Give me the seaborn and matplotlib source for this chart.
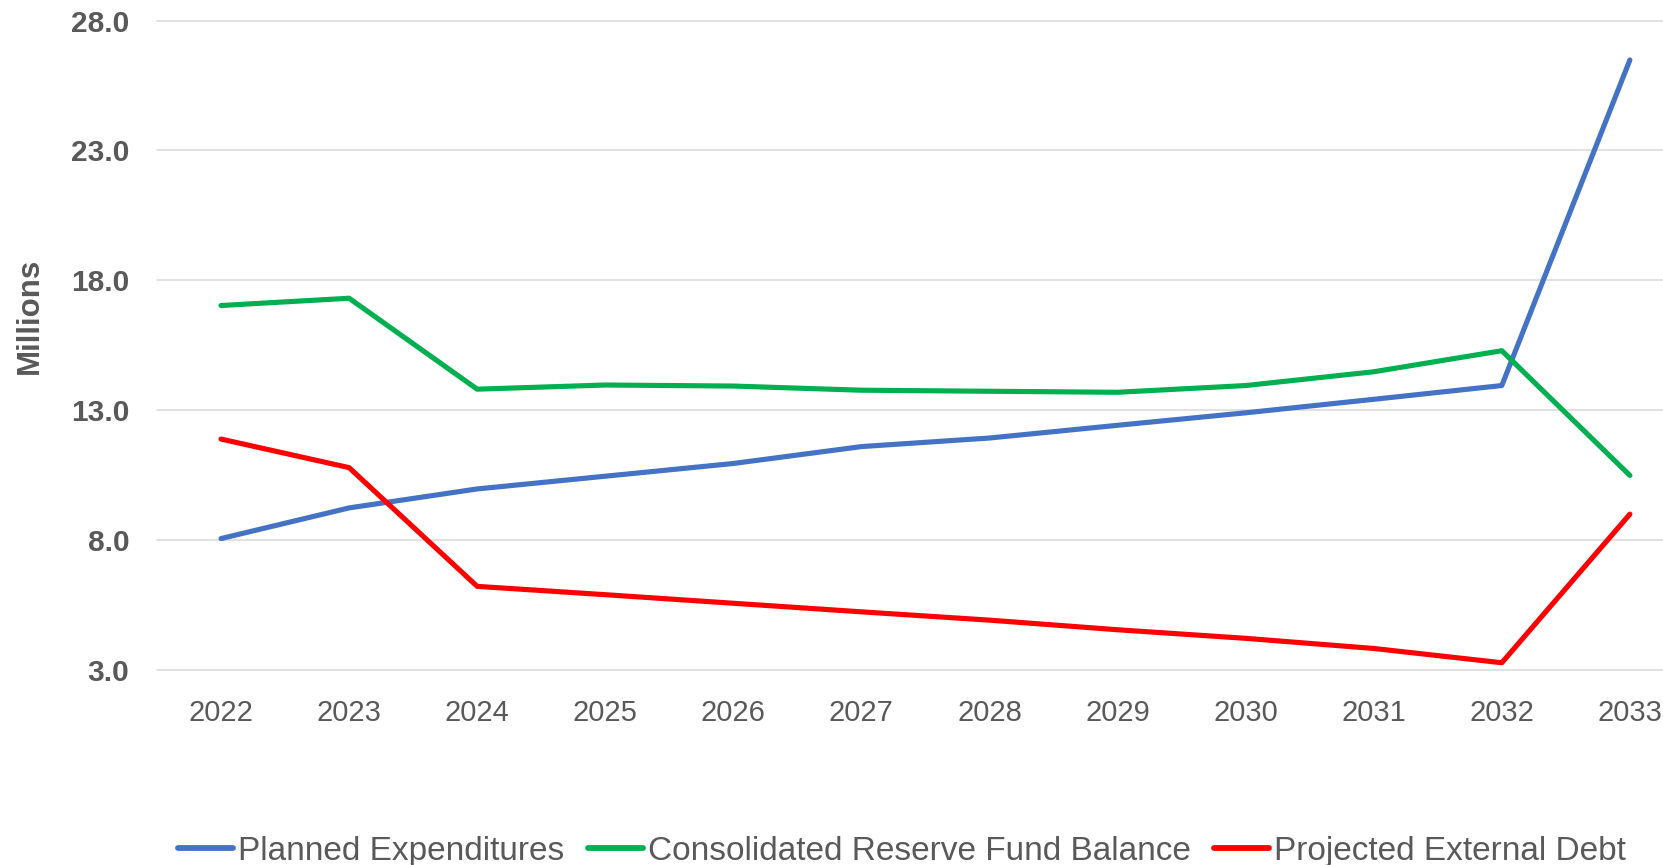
import numpy as np
import pandas as pd
import matplotlib
matplotlib.use("Agg")
import matplotlib.pyplot as plt
import seaborn as sns

years = list(range(2022, 2034))

planned_expenditures = [8.06, 9.24, 9.97, 10.46, 10.95, 11.6, 11.93, 12.42, 12.9, 13.42, 13.95, 26.48]
reserve_fund_balance = [17.03, 17.31, 13.81, 13.97, 13.93, 13.77, 13.73, 13.69, 13.95, 14.48, 15.29, 10.49]
external_debt = [11.89, 10.79, 6.22, 5.9, 5.57, 5.24, 4.92, 4.55, 4.22, 3.83, 3.28, 9.0]

series_names = ["Planned Expenditures", "Consolidated Reserve Fund Balance", "Projected External Debt"]
series_colors = ["#4472C4", "#00B050", "#FF0000"]
y_ticks = [3.0, 8.0, 13.0, 18.0, 23.0, 28.0]

df = pd.DataFrame({
    "Year": years * 3,
    "Value": planned_expenditures + reserve_fund_balance + external_debt,
    "Series": [series_names[0]] * 12 + [series_names[1]] * 12 + [series_names[2]] * 12,
})

sns.set_style("white")
plt.rcParams["font.family"] = ["Liberation Sans", "DejaVu Sans"]

fig = plt.figure(figsize=(16.63, 8.65), dpi=100)
ax = fig.add_axes([0.0944, 0.2254, 0.9242, 0.7509])

sns.lineplot(
    data=df, x="Year", y="Value", hue="Series",
    palette=series_colors, hue_order=series_names,
    linewidth=3.7, ax=ax, legend=True
)

ax.set_xlim(2021.5, 2033.5)
ax.set_ylim(3, 28)
ax.set_xticks(years)
ax.set_xticklabels([str(y) for y in years])
ax.set_yticks(y_ticks)
ax.set_yticklabels([f"{v:.1f}" for v in y_ticks])
ax.yaxis.grid(True, color="#D9D9D9", linewidth=1.1)
ax.set_axisbelow(True)
for gl in ax.get_ygridlines():
    gl.set_clip_on(False)
for s in ax.spines.values():
    s.set_visible(False)

ax.tick_params(axis="x", length=0, pad=21, labelsize=21, labelcolor="#595959")
ax.tick_params(axis="y", length=0, pad=20, labelsize=21.5, labelcolor="#595959")
for lab in ax.get_yticklabels():
    lab.set_fontweight("bold")

ax.set_xlabel("")
ax.set_ylabel("")
fig.text(30 / 1663, 1 - 315.5 / 865, "Millions", rotation=90, ha="center", va="center",
         fontsize=22.5, fontweight="bold", color="#595959")

handles, labels = ax.get_legend_handles_labels()
ax.get_legend().remove()
for h in handles:
    h.set_linewidth(4.2)
fig.legend(
    handles, labels, loc="center", bbox_to_anchor=(0.5425, 0.016),
    ncol=3, frameon=False, fontsize=24, labelcolor="#595959",
    handlelength=1.65, handletextpad=0.15, columnspacing=0.7, borderpad=0
)

fig.savefig("out.png", dpi=100)
